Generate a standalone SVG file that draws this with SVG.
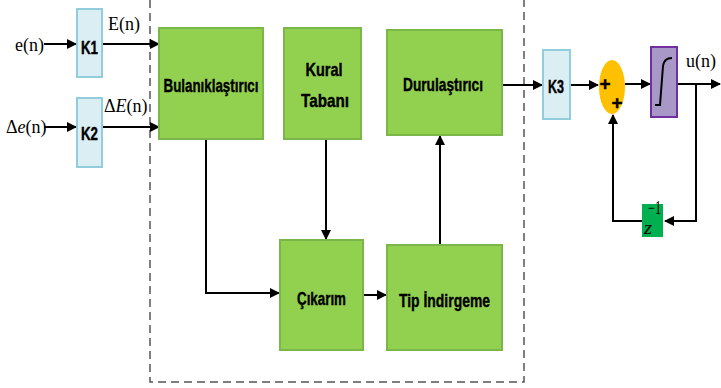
<svg xmlns="http://www.w3.org/2000/svg" width="721" height="388" viewBox="0 0 721 388">
<style>
.g{fill:#92D050;stroke:#7AB648;stroke-width:2}
.k{fill:#DAEEF3;stroke:#92CDDC;stroke-width:2}
.bt{font-family:"Liberation Sans",Arial,sans-serif;font-weight:bold;font-size:19px;fill:#000;stroke:#000;stroke-width:0.4;text-anchor:middle}
.mt{font-family:"Liberation Serif","Times New Roman",serif;font-size:18px;fill:#000}
.c{fill:none;stroke:#000;stroke-width:2}
</style>
<defs>
<marker id="a" viewBox="0 0 10 10" refX="9" refY="5" markerWidth="10" markerHeight="10" markerUnits="userSpaceOnUse" orient="auto">
<path d="M0,0 L10,5 L0,10 z" fill="#000"/>
</marker>
</defs>
<path d="M150,0 V382 H524 V0" fill="none" stroke="#555" stroke-width="1.5" stroke-dasharray="8,5"/>
<g id="connectors">
<path class="c" d="M44,44 H76" marker-end="url(#a)"/>
<path class="c" d="M44,127 H76" marker-end="url(#a)"/>
<path class="c" d="M102,44 H159" marker-end="url(#a)"/>
<path class="c" d="M102,127 H159" marker-end="url(#a)"/>
<path class="c" d="M206,139 V293 H279" marker-end="url(#a)"/>
<path class="c" d="M326,139 V239" marker-end="url(#a)"/>
<path class="c" d="M363,295 H386" marker-end="url(#a)"/>
<path class="c" d="M440,245 V136" marker-end="url(#a)"/>
<path class="c" d="M502,85 H542" marker-end="url(#a)"/>
<path class="c" d="M570,85 H598" marker-end="url(#a)"/>
<path class="c" d="M625,84 H650" marker-end="url(#a)"/>
<path class="c" d="M677,84 H720" marker-end="url(#a)"/>
<path class="c" d="M696,84 V221 H665" marker-end="url(#a)"/>
<path class="c" d="M642,221 H613 V115" marker-end="url(#a)"/>
</g>
<text class="mt" x="15" y="51">e(n)</text>
<text class="mt" x="108" y="30">E(n)</text>
<text class="mt" x="6" y="133">Δ<tspan font-style="italic">e</tspan>(n)</text>
<text class="mt" x="104" y="112">Δ<tspan font-style="italic">E</tspan>(n)</text>
<g id="K1"><rect class="k" x="77" y="9" width="25" height="68"/><text class="bt" x="89.5" y="54" font-size="18" textLength="17" lengthAdjust="spacingAndGlyphs">K1</text></g>
<g id="K2"><rect class="k" x="77" y="98" width="25" height="69"/><text class="bt" x="89.5" y="140" font-size="18" textLength="17" lengthAdjust="spacingAndGlyphs">K2</text></g>
<g id="bul"><rect class="g" x="159" y="28" width="104" height="111"/><text class="bt" x="211" y="92" textLength="95" lengthAdjust="spacingAndGlyphs">Bulanıklaştırıcı</text></g>
<g id="kural"><rect class="g" x="284" y="28" width="77" height="111"/><text class="bt" x="324" y="76" textLength="37" lengthAdjust="spacingAndGlyphs">Kural</text><text class="bt" x="325" y="107" textLength="48" lengthAdjust="spacingAndGlyphs">Tabanı</text></g>
<g id="durul"><rect class="g" x="387" y="30" width="115" height="105"/><text class="bt" x="443" y="91" textLength="80" lengthAdjust="spacingAndGlyphs">Durulaştırıcı</text></g>
<g id="cikarim"><rect class="g" x="280" y="240" width="83" height="110"/><text class="bt" x="321.5" y="305" textLength="49" lengthAdjust="spacingAndGlyphs">Çıkarım</text></g>
<g id="tip"><rect class="g" x="387" y="245" width="115" height="105"/><text class="bt" x="444.5" y="307" textLength="91" lengthAdjust="spacingAndGlyphs">Tip İndirgeme</text></g>
<g id="K3"><rect class="k" x="543" y="50" width="27" height="69"/><text class="bt" x="556" y="93" font-size="18" textLength="16" lengthAdjust="spacingAndGlyphs">K3</text></g>
<g id="sum"><ellipse cx="612" cy="87" rx="13" ry="27" fill="#FFC000"/><text class="bt" x="605" y="90" font-size="16">+</text><text class="bt" x="617" y="109" font-size="16">+</text></g>
<g id="integ"><rect x="651" y="47" width="26" height="70" fill="#A898C8" stroke="#7030A0" stroke-width="2"/><path d="M655,105 H660 L663,66 Q664,58 672,58" fill="none" stroke="#000" stroke-width="2"/></g>
<text class="mt" x="686" y="67">u(n)</text>
<g id="zinv"><rect x="642" y="204" width="21" height="33" fill="#00B050"/><text class="mt" x="644" y="234" font-style="italic" font-size="24" textLength="8" lengthAdjust="spacingAndGlyphs">z</text><text class="mt" x="648" y="214" font-size="10" textLength="13" lengthAdjust="spacingAndGlyphs">−1</text></g>
</svg>
